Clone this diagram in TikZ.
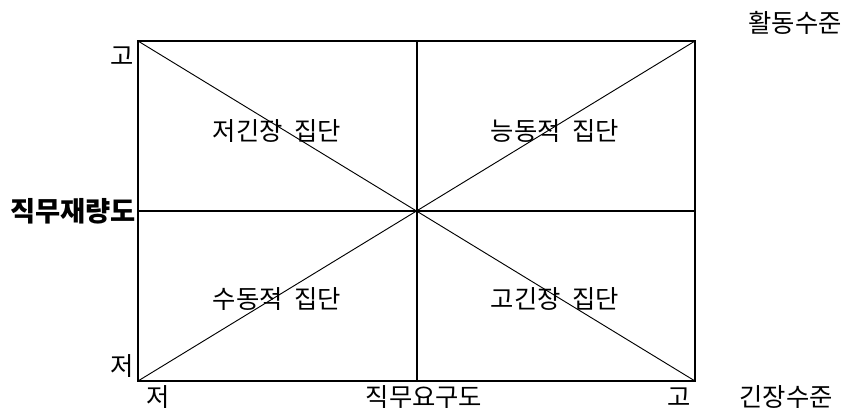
\documentclass[tikz,border=0pt]{standalone}
\usepackage{fontspec}
\newfontfamily\kr{Noto Sans CJK KR}
\begin{document}
\begin{tikzpicture}[x=0.75pt,y=-0.75pt,
  thick line/.style={line width=2.2pt},
  thin line/.style={line width=0.7pt},
  lbl/.style={inner sep=0pt,font=\kr\fontsize{19}{22}\selectfont},
  blbl/.style={inner sep=0pt,font=\kr\bfseries\fontsize{20.5}{24}\selectfont}]
\useasboundingbox (0,0) rectangle (851,412);
\coordinate (tl) at (138,41);
\coordinate (tr) at (695,41);
\coordinate (bl) at (138,381);
\coordinate (br) at (695,381);
\coordinate (tm) at (417,41);
\coordinate (bm) at (417,381);
\coordinate (lm) at (138,211);
\coordinate (rm) at (695,211);
\draw[thin line] (tl) -- (br);
\draw[thin line] (bl) -- (tr);
\draw[thick line] (tm) -- (bm);
\draw[thick line] (lm) -- (rm);
\draw[thick line] (tl) -- (tr) -- (br) -- (bl) -- cycle;
\node[lbl] (yhi) at (122,56) {고};
\node[lbl] (ylo) at (122,366) {저};
\node[lbl] (xlo) at (158,397) {저};
\node[lbl] (xlab) at (424,397) {직무요구도};
\node[lbl] (xhi) at (679,397) {고};
\node[lbl] (tens) at (786,397) {긴장수준};
\node[lbl] (act) at (795,23) {활동수준};
\node[blbl] (ylab) at (73,211) {직무재량도};
\node[lbl] (q1) at (277,131) {저긴장\hspace{9pt}집단};
\node[lbl] (q2) at (555,131) {능동적\hspace{9pt}집단};
\node[lbl] (q3) at (277,299) {수동적\hspace{9pt}집단};
\node[lbl] (q4) at (555,299) {고긴장\hspace{9pt}집단};
\end{tikzpicture}
\end{document}
